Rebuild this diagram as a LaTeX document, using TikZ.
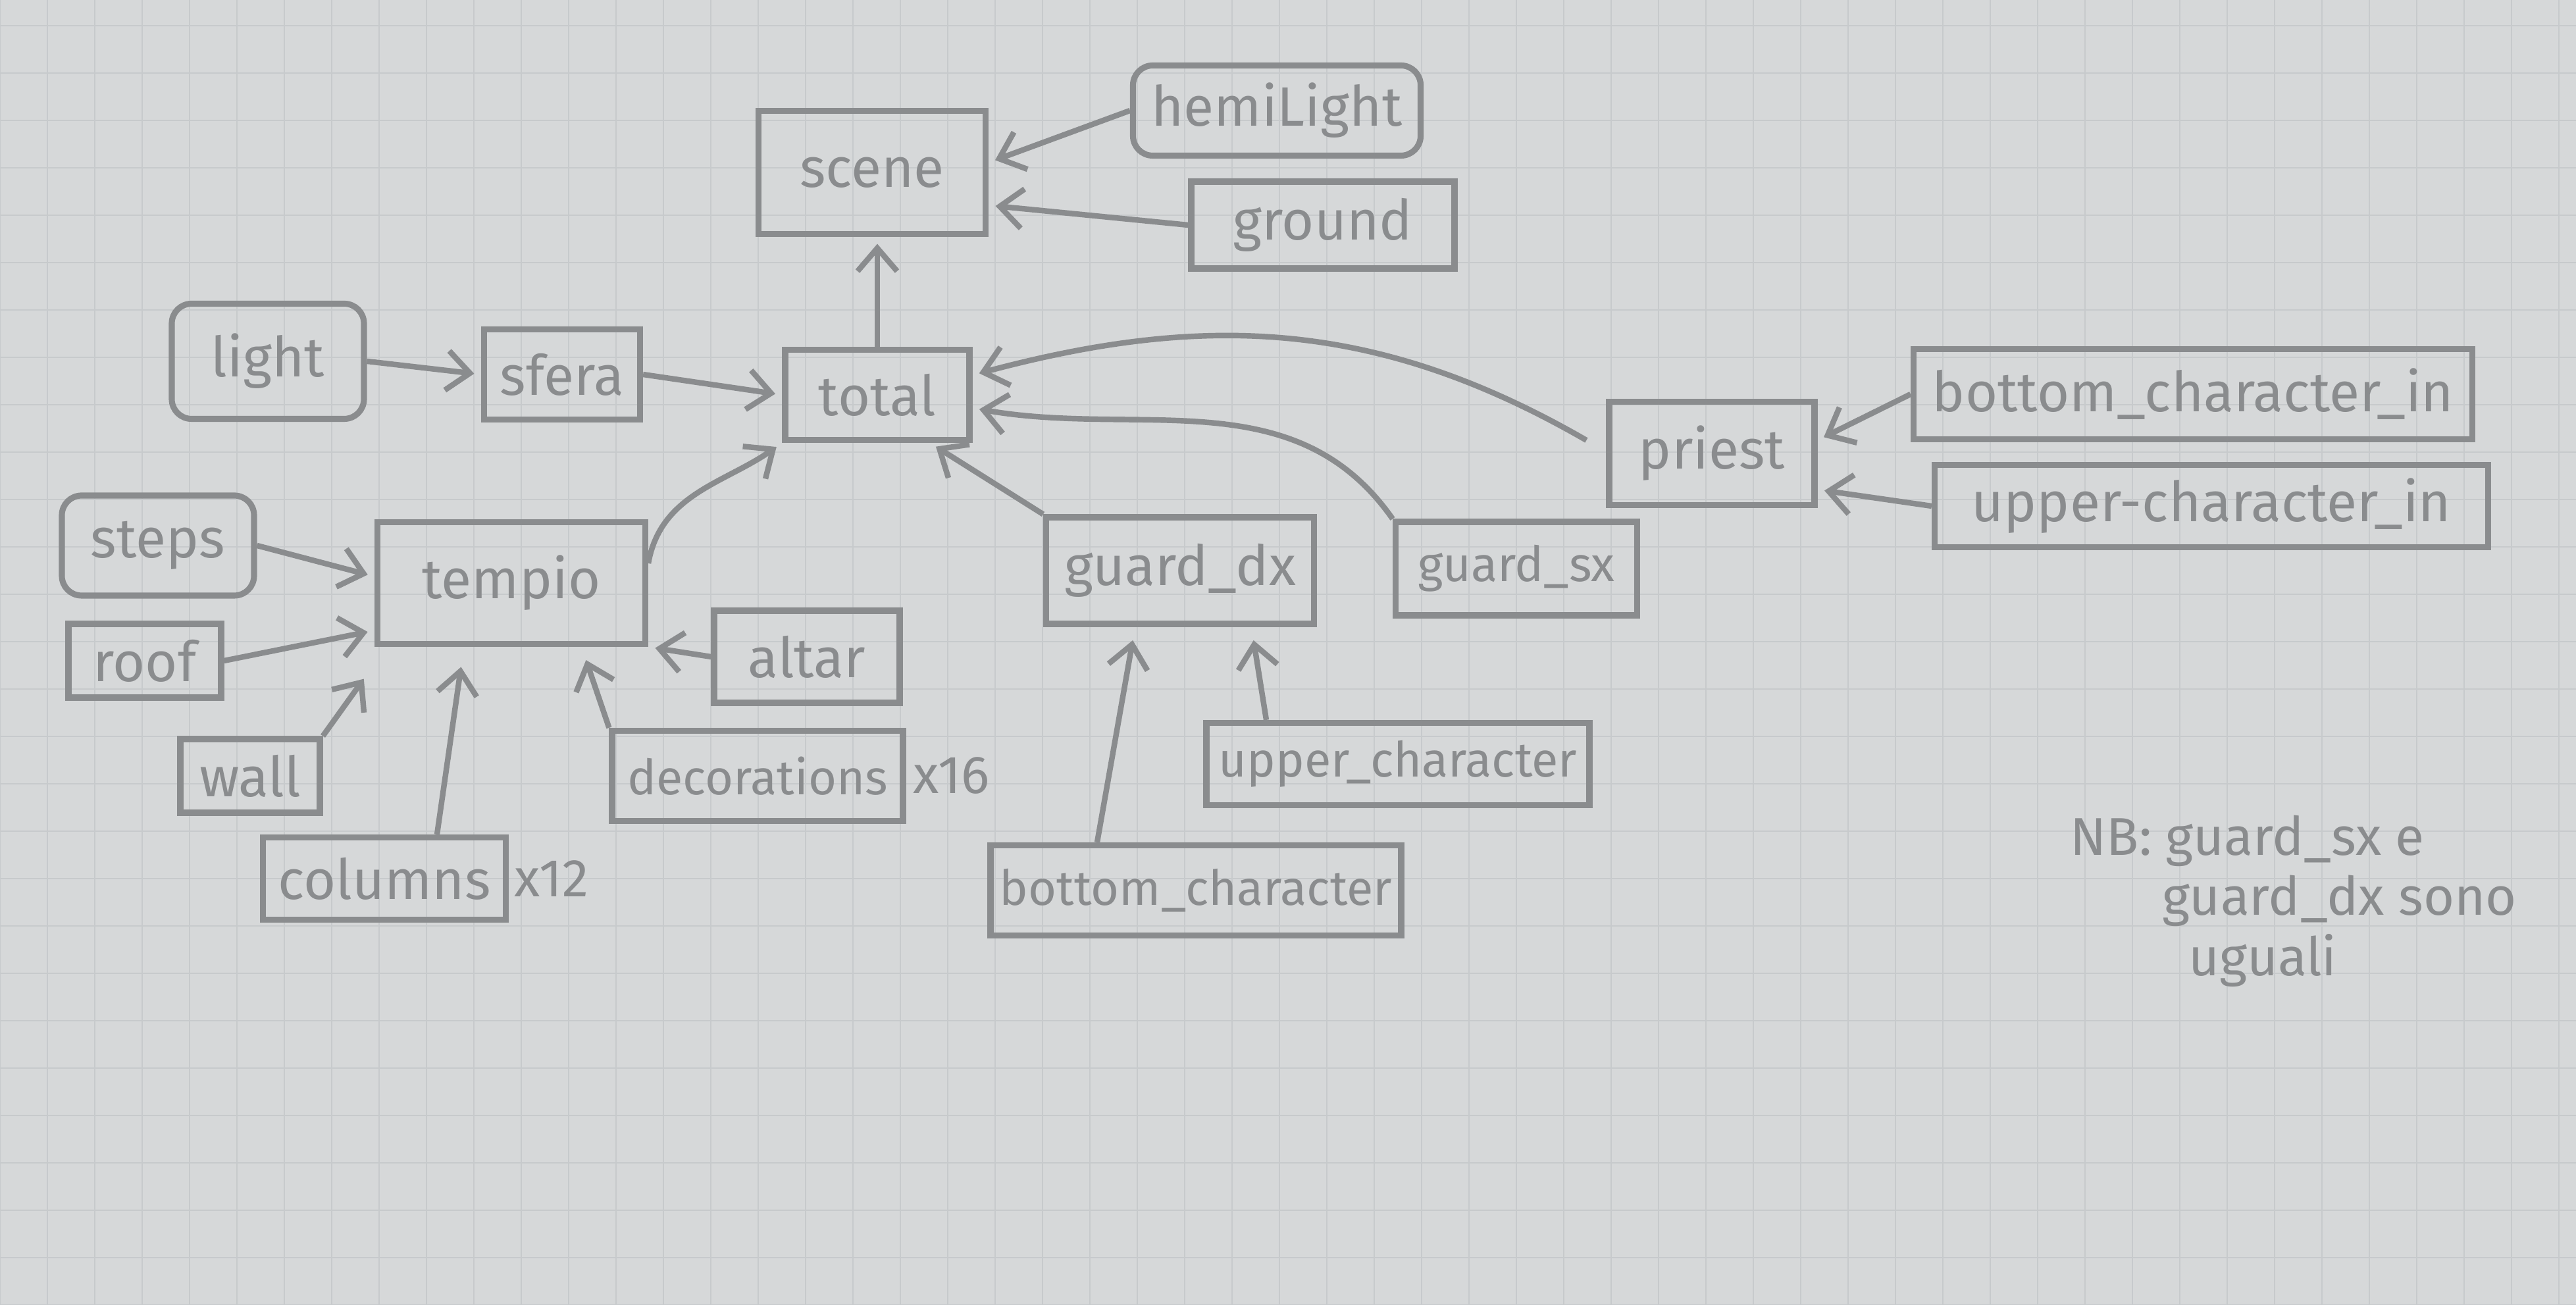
\documentclass[tikz,border=0pt]{standalone}
\usepackage{fontspec}
\setmainfont{Fira Sans}
\usetikzlibrary{arrows.meta, positioning}
\definecolor{paper}{RGB}{214,216,217}
\definecolor{gridline}{RGB}{199,202,204}
\definecolor{pencil}{RGB}{138,140,142}
\tikzset{
    box/.style={draw=pencil, line width=2.6pt, text=pencil, align=center, inner sep=2pt, font=\fontsize{24}{26}\selectfont},
    roundbox/.style={box, rounded corners=0.3cm},
    longbox/.style={box, font=\fontsize{21}{23}\selectfont},
    arrow/.style={-{Straight Barb[length=3.5mm, width=6mm]}, line width=2.4pt, pencil, shorten >=3pt},
    note/.style={text=pencil, inner sep=0pt, font=\fontsize{23}{26}\selectfont}
}
\begin{document}
\begin{tikzpicture}
    \useasboundingbox (0,0) rectangle (39.14,19.83);
    \fill [paper] (0,0) rectangle (39.14,19.83);
    \draw [gridline, line width=0.6pt] (0,0) grid[step=0.72] (39.14,19.83);

    % Top: scene and its inputs
    \node [box, minimum width=3.45cm, minimum height=1.87cm] (scene) at (13.25,17.21) {scene};
    \node [roundbox, minimum width=4.37cm, minimum height=1.37cm] (hemi) at (19.40,18.15) {hemiLight};
    \node [box, minimum width=4.0cm, minimum height=1.32cm] (ground) at (20.10,16.41) {ground};

    % Row 1
    \node [roundbox, minimum width=2.92cm, minimum height=1.75cm] (light) at (4.07,14.34) {light};
    \node [box, minimum width=2.37cm, minimum height=1.37cm] (sfera) at (8.54,14.14) {sfera};
    \node [box, minimum width=2.80cm, minimum height=1.37cm] (total) at (13.33,13.83) {total};
    \node [box, minimum width=3.12cm, minimum height=1.57cm] (priest) at (26.01,12.94) {priest};
    \node [box, minimum width=8.49cm, minimum height=1.37cm] (bci) at (33.32,13.84) {bottom\_character\_in};
    \node [box, minimum width=8.41cm, minimum height=1.25cm] (uci) at (33.60,12.14) {upper-character\_in};

    % Row 2
    \node [roundbox, minimum width=2.92cm, minimum height=1.52cm] (steps) at (2.40,11.54) {steps};
    \node [box, minimum width=4.07cm, minimum height=1.85cm] (tempio) at (7.77,10.97) {tempio};
    \node [box, minimum width=2.32cm, minimum height=1.12cm] (roof) at (2.20,9.79) {roof};
    \node [box, minimum width=2.82cm, minimum height=1.40cm] (altar) at (12.26,9.85) {altar};
    \node [box, minimum width=4.07cm, minimum height=1.62cm] (gdx) at (17.93,11.16) {guard\_dx};
    \node [longbox, minimum width=3.67cm, minimum height=1.42cm] (gsx) at (23.04,11.19) {guard\_sx};

    % Row 3 (parts)
    \node [box, minimum width=2.12cm, minimum height=1.12cm] (wall) at (3.80,8.04) {wall};
    \node [longbox, minimum width=4.42cm, minimum height=1.37cm] (deco) at (11.51,8.04) {decorations};
    \node [note, right=0.1cm of deco] (deco-x) {x16};
    \node [longbox, minimum width=5.82cm, minimum height=1.25cm] (uc) at (21.24,8.22) {upper\_character};
    \node [box, minimum width=3.69cm, minimum height=1.25cm] (col) at (5.84,6.48) {columns};
    \node [note, right=0.08cm of col] (col-x) {x12};
    \node [longbox, minimum width=6.24cm, minimum height=1.37cm] (bc) at (18.17,6.30) {bottom\_character};

    % Note
    \node [note, align=left, anchor=north west] (nb) at (31.45,7.45) {NB: guard\_sx e\\\hspace*{1.4cm}guard\_dx sono\\\hspace*{1.8cm}uguali};

    % into scene
    \draw [arrow] (hemi.west) -- ([yshift=0.15cm]scene.east);
    \draw [arrow] (ground.west) -- ([yshift=-0.5cm]scene.east);
    \draw [arrow] (total.north) -- (total.north |- scene.south);

    % into total
    \draw [arrow] (light.east) -- (sfera.west);
    \draw [arrow] (sfera.east) -- (total.west);
    \draw [arrow] ([yshift=0.3cm]tempio.east) to[out=80, in=215] (total.south west);
    \draw [arrow] (gdx.north west) -- ([xshift=0.8cm]total.south);
    \draw [arrow] (gsx.north west) to[out=125, in=-10] ([yshift=-0.2cm]total.east);
    \draw [arrow] ([xshift=-0.3cm, yshift=0.2cm]priest.west) to[out=150, in=15] ([yshift=0.3cm]total.east);

    % into priest
    \draw [arrow] (bci.west) -- ([yshift=0.2cm]priest.east);
    \draw [arrow] (uci.west) -- ([yshift=-0.55cm]priest.east);

    % into tempio
    \draw [arrow] (steps.east) -- ([yshift=0.1cm]tempio.west);
    \draw [arrow] (roof.east) -- ([yshift=0.25cm]tempio.south west);
    \draw [arrow] (wall.north east) -- ([xshift=-0.1cm, yshift=-0.4cm]tempio.south west);
    \draw [arrow] ([xshift=0.8cm]col.north) -- ([xshift=-0.75cm, yshift=-0.2cm]tempio.south);
    \draw [arrow] (deco.north west) -- ([xshift=1.1cm, yshift=-0.1cm]tempio.south);
    \draw [arrow] (altar.west) -- (tempio.south east);

    % into guard_dx
    \draw [arrow] ([xshift=-1.5cm]bc.north) -- ([xshift=-0.7cm, yshift=-0.1cm]gdx.south);
    \draw [arrow] ([xshift=-2.0cm]uc.north) -- ([xshift=1.1cm, yshift=-0.1cm]gdx.south);
\end{tikzpicture}
\end{document}
